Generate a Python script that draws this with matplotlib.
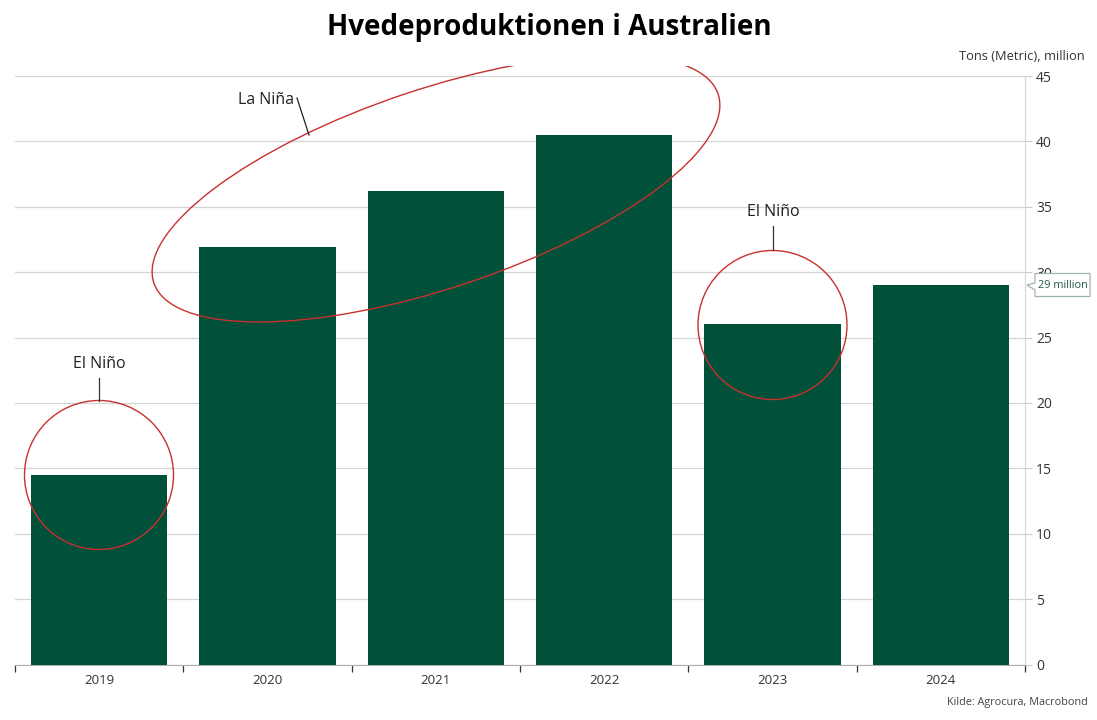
import matplotlib
matplotlib.use("Agg")
import matplotlib.pyplot as plt
from matplotlib.patches import Ellipse, Rectangle

plt.rcParams['font.family'] = ['Open Sans', 'DejaVu Sans']

years = ['2019', '2020', '2021', '2022', '2023', '2024']
production = [14.5, 31.9, 36.2, 40.5, 26.0, 29.0]
yticks = [0, 5, 10, 15, 20, 25, 30, 35, 40, 45]
title = 'Hvedeproduktionen i Australien'
unit_label = 'Tons (Metric), million'
source = 'Kilde: Agrocura, Macrobond'
last_label = '29 million'

W, H = 1097, 720
GREEN = '#01513a'
RED = '#c8302e'
TEXT = '#333333'

fig = plt.figure(figsize=(W / 100, H / 100), dpi=100)
ax = fig.add_axes([15 / W, 1 - 664.5 / H, 1010 / W, 588.5 / H])
ax.bar(range(len(years)), production, width=0.81, color=GREEN, zorder=3)
ax.set_xlim(-0.5, 5.5)
ax.set_ylim(0, 45)

ax.yaxis.tick_right()
ax.set_yticks(yticks)
ax.set_yticklabels([str(v) for v in yticks], fontsize=10, color=TEXT)
ax.tick_params(axis='y', length=5, width=0.8, color='#c8c8c8', pad=3, direction='out')
ax.grid(axis='y', color='#d4d4d4', lw=0.9, zorder=0)
ax.set_axisbelow(True)

ax.set_xticks([i - 0.5 for i in range(len(years) + 1)], minor=False)
ax.set_xticklabels([])
ax.set_xticks(range(len(years)), minor=True)
ax.set_xticklabels(years, minor=True, fontsize=9.5, color=TEXT)
ax.tick_params(axis='x', which='major', length=5, width=0.9, color='#333333')
ax.tick_params(axis='x', which='minor', length=0, pad=7)

for s in ['top', 'left']:
    ax.spines[s].set_visible(False)
ax.spines['right'].set_color('#d4d4d4')
ax.spines['bottom'].set_color('#b0b0b0')

# overlay in pixel coordinates for the hand-drawn annotations
ov = fig.add_axes([0, 0, 1, 1], facecolor='none')
ov.set_xlim(0, W)
ov.set_ylim(H, 0)
ov.axis('off')

clip = Rectangle((0, 66), W, H - 66, transform=ov.transData)
ell = Ellipse((436, 188.5), 595, 199, angle=-18.5, fill=False, ec=RED, lw=1.0, zorder=5)
ov.add_patch(ell)
ell.set_clip_path(clip)
ov.add_patch(Ellipse((99, 475), 149, 149, fill=False, ec=RED, lw=1.0, zorder=5))
ov.add_patch(Ellipse((772.5, 325), 149, 149, fill=False, ec=RED, lw=1.0, zorder=5))

ov.plot([99, 99], [378, 401], color='#333333', lw=0.9, zorder=5)
ov.plot([772.5, 772.5], [226, 250], color='#333333', lw=0.9, zorder=5)
ov.plot([297, 309], [98, 135], color='#222222', lw=0.9, zorder=5)

ann = dict(fontsize=11.5, color='#222222', ha='center', va='center', zorder=6)
ov.text(99, 363.5, 'El Niño', **ann)
ov.text(773, 212.5, 'El Niño', **ann)
ov.text(266, 99.5, 'La Niña', **ann)

ov.text(549, 27.5, title, fontsize=20, fontweight='bold', color='black', ha='center', va='center')
ov.text(1085, 56, unit_label, fontsize=9.3, color=TEXT, ha='right', va='center')
ov.text(1088, 703, source, fontsize=7.8, color='#444444', ha='right', va='center')

# value tag for the last bar
xs = [1035, 1035, 1090, 1090, 1035, 1035, 1027, 1035]
ys = [283, 273.5, 273.5, 296.5, 296.5, 290, 285, 283]
ov.fill(xs, ys, fc='white', ec='#9fb3ad', lw=0.9, zorder=7)
ov.text(1063, 285, last_label, fontsize=7.8, color='#1f5a48', ha='center', va='center', zorder=8)

fig.savefig('out.png', dpi=100)
